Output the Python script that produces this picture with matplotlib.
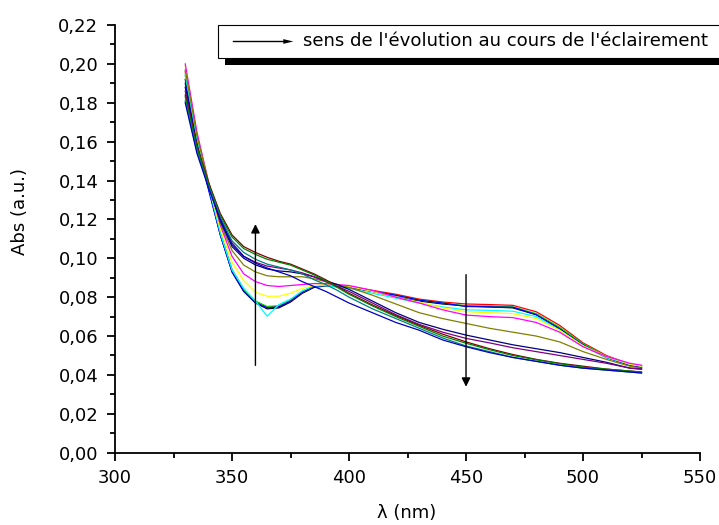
import matplotlib.pyplot as plt
from matplotlib.patches import Rectangle
from matplotlib.ticker import MultipleLocator, FuncFormatter

plt.rcParams['font.family'] = ['DejaVu Sans']

# longueurs d'onde (nm)
lam = [330, 335, 340, 345, 350, 355, 360, 365, 370, 375, 380, 385, 390, 395,
       400, 410, 420, 430, 440, 450, 460, 470, 480, 490, 500, 510, 520, 525]

# spectres, dans l'ordre d'éclairement
s_black = [0.192, 0.160, 0.136, 0.112, 0.093, 0.083, 0.077, 0.0740, 0.0745, 0.0775, 0.082, 0.085, 0.0858, 0.0855,
           0.085, 0.083, 0.080, 0.078, 0.0765, 0.0755, 0.075, 0.0745, 0.071, 0.064, 0.055, 0.049, 0.045, 0.044]
s_red = [0.196, 0.162, 0.137, 0.113, 0.094, 0.084, 0.0775, 0.0748, 0.0752, 0.078, 0.0825, 0.0855, 0.0862, 0.086,
         0.0855, 0.0835, 0.0815, 0.079, 0.0775, 0.0765, 0.0762, 0.0758, 0.0725, 0.0655, 0.0565, 0.050, 0.0455, 0.0445]
s_green = [0.194, 0.161, 0.136, 0.113, 0.094, 0.084, 0.078, 0.0752, 0.0756, 0.0785, 0.083, 0.0858, 0.0862, 0.0858,
           0.085, 0.083, 0.081, 0.0785, 0.077, 0.0755, 0.0755, 0.075, 0.0715, 0.0645, 0.056, 0.0495, 0.0455, 0.0445]
s_blue = [0.190, 0.159, 0.135, 0.112, 0.093, 0.083, 0.0772, 0.0745, 0.075, 0.078, 0.0825, 0.0855, 0.086, 0.0855,
          0.085, 0.083, 0.081, 0.0785, 0.077, 0.0752, 0.075, 0.0748, 0.071, 0.0635, 0.0555, 0.049, 0.045, 0.0435]
s_cyan = [0.195, 0.162, 0.137, 0.113, 0.094, 0.0845, 0.078, 0.0702, 0.0762, 0.079, 0.0832, 0.0858, 0.086, 0.085,
          0.0845, 0.082, 0.0795, 0.077, 0.075, 0.0735, 0.0732, 0.0728, 0.070, 0.063, 0.055, 0.049, 0.0455, 0.0445]
s_yellow = [0.199, 0.164, 0.138, 0.115, 0.098, 0.0885, 0.0825, 0.0805, 0.0805, 0.082, 0.0845, 0.086, 0.0865, 0.086,
            0.0855, 0.083, 0.080, 0.0775, 0.0745, 0.0725, 0.072, 0.0715, 0.069, 0.063, 0.055, 0.0495, 0.0455, 0.0445]
s_magenta = [0.200, 0.165, 0.139, 0.117, 0.101, 0.092, 0.088, 0.086, 0.0855, 0.086, 0.0865, 0.087, 0.087, 0.0865,
             0.086, 0.0835, 0.080, 0.077, 0.0735, 0.0708, 0.070, 0.0695, 0.067, 0.062, 0.0545, 0.0495, 0.046, 0.045]
s_olive = [0.197, 0.163, 0.139, 0.118, 0.104, 0.0965, 0.093, 0.091, 0.0905, 0.0905, 0.0905, 0.0895, 0.088, 0.0865,
           0.085, 0.081, 0.0765, 0.072, 0.069, 0.0665, 0.064, 0.062, 0.060, 0.057, 0.052, 0.048, 0.0445, 0.0435]
s_navy = [0.188, 0.158, 0.137, 0.119, 0.106, 0.100, 0.0966, 0.0945, 0.0935, 0.093, 0.092, 0.0905, 0.0885, 0.0865,
          0.084, 0.078, 0.072, 0.067, 0.0635, 0.0605, 0.058, 0.0555, 0.0535, 0.0515, 0.049, 0.0465, 0.0435, 0.043]
s_purple = [0.186, 0.157, 0.137, 0.120, 0.108, 0.101, 0.098, 0.096, 0.095, 0.094, 0.0925, 0.0905, 0.088, 0.0855,
            0.083, 0.077, 0.071, 0.066, 0.062, 0.0588, 0.0565, 0.054, 0.052, 0.050, 0.048, 0.046, 0.0435, 0.043]
s_wine = [0.184, 0.158, 0.139, 0.123, 0.112, 0.106, 0.103, 0.1005, 0.0985, 0.097, 0.0945, 0.092, 0.089, 0.0855,
          0.082, 0.076, 0.0705, 0.0655, 0.061, 0.057, 0.0535, 0.0505, 0.048, 0.046, 0.0445, 0.043, 0.042, 0.0415]
s_dkgreen = [0.183, 0.157, 0.138, 0.122, 0.111, 0.105, 0.102, 0.0995, 0.098, 0.0965, 0.094, 0.0915, 0.0885, 0.085,
             0.0815, 0.0755, 0.070, 0.065, 0.060, 0.0563, 0.053, 0.050, 0.0478, 0.0458, 0.044, 0.043, 0.042, 0.0415]
s_teal = [0.181, 0.155, 0.137, 0.121, 0.109, 0.103, 0.0995, 0.097, 0.0955, 0.094, 0.092, 0.089, 0.0865, 0.0835,
          0.080, 0.074, 0.069, 0.064, 0.059, 0.0549, 0.052, 0.049, 0.047, 0.045, 0.0435, 0.0425, 0.0415, 0.041]
s_royal = [0.180, 0.154, 0.136, 0.120, 0.107, 0.101, 0.0975, 0.095, 0.093, 0.091, 0.088, 0.0855, 0.083, 0.080,
           0.077, 0.072, 0.067, 0.063, 0.058, 0.0545, 0.0515, 0.049, 0.047, 0.045, 0.0435, 0.0425, 0.0415, 0.041]

spectres = [s_black, s_red, s_green, s_blue, s_cyan, s_yellow, s_magenta, s_olive,
            s_navy, s_purple, s_wine, s_dkgreen, s_teal, s_royal]
couleurs = ['black', 'red', '#00d000', 'blue', 'cyan', 'yellow', 'magenta', '#808000',
            '#000080', '#800080', '#800000', '#008000', '#008080', '#0000c0']

fig = plt.figure(figsize=(7.19, 5.25), dpi=100)
ax = fig.add_axes([0.160, 0.1377, 0.8136, 0.8147])

for s, c in zip(spectres, couleurs):
    ax.plot(lam, s, color=c, linewidth=0.9)

# fleches d'évolution
ax.annotate('', xy=(360, 0.119), xytext=(360, 0.0435),
            arrowprops=dict(arrowstyle='-|>', color='black', lw=1.0, mutation_scale=13))
ax.annotate('', xy=(450, 0.0325), xytext=(450, 0.093),
            arrowprops=dict(arrowstyle='-|>', color='black', lw=1.0, mutation_scale=13))

ax.set_xlim(300, 550)
ax.set_ylim(0, 0.22)
ax.xaxis.set_major_locator(MultipleLocator(50))
ax.xaxis.set_minor_locator(MultipleLocator(25))
ax.yaxis.set_major_locator(MultipleLocator(0.02))
ax.yaxis.set_minor_locator(MultipleLocator(0.01))
ax.yaxis.set_major_formatter(FuncFormatter(lambda v, p: ('%.2f' % v).replace('.', ',')))

ax.spines['top'].set_visible(False)
ax.spines['right'].set_visible(False)
ax.spines['left'].set_linewidth(1.3)
ax.spines['bottom'].set_linewidth(1.3)
ax.tick_params(which='major', direction='out', length=6, width=1.3, labelsize=13, pad=6)
ax.tick_params(which='minor', direction='out', length=3.5, width=1.3)

ax.set_xlabel('λ (nm)', fontsize=13, va='center')
ax.set_ylabel('Abs (a.u.)', fontsize=13, va='center')
ax.xaxis.set_label_coords(0.499, -0.141)
ax.yaxis.set_label_coords(-0.162, 0.563)

# encadré de légende (coupé à droite comme l'original)
fig.add_artist(Rectangle((0.313, 0.876), 0.75, 0.064, transform=fig.transFigure,
                         facecolor='black', edgecolor='none', clip_on=False))
fig.add_artist(Rectangle((0.3032, 0.890), 0.75, 0.0624, transform=fig.transFigure,
                         facecolor='white', edgecolor='black', linewidth=0.8, clip_on=False))
fig.add_artist(plt.Line2D([0.324, 0.398], [0.921, 0.921], transform=fig.transFigure,
                          color='black', linewidth=1.0))
fig.add_artist(plt.Polygon([[0.394, 0.9255], [0.408, 0.921], [0.394, 0.9165]], closed=True,
                           transform=fig.transFigure, facecolor='black', edgecolor='none'))
fig.text(0.4215, 0.921, "sens de l'évolution au cours de l'éclairement",
         fontsize=13.1, va='center', ha='left')

fig.savefig('out.png', dpi=100)
